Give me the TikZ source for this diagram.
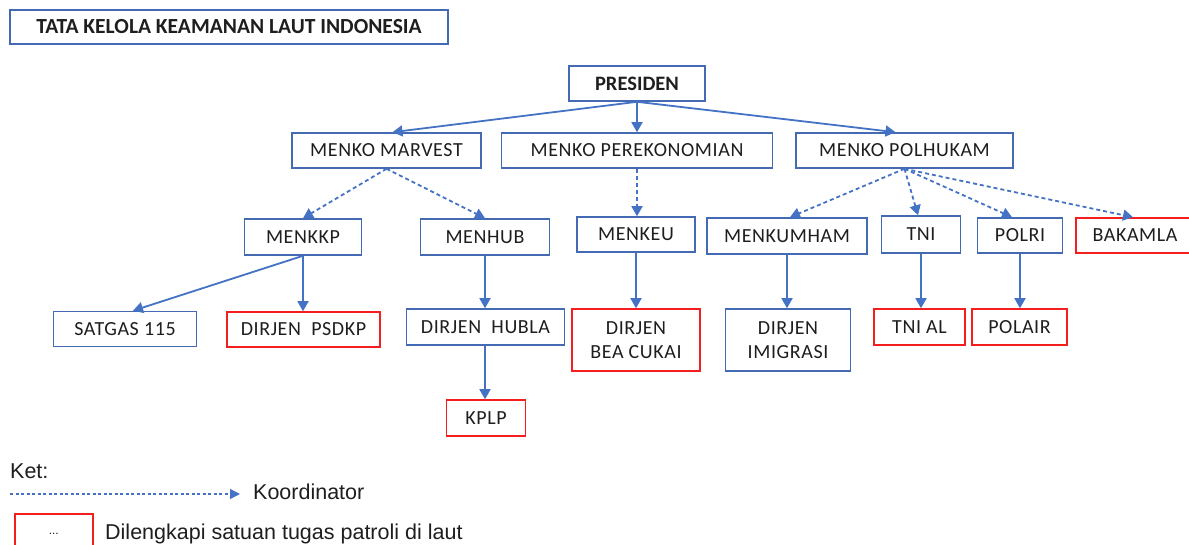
\documentclass[tikz,border=0pt]{standalone}
\usepackage{fontspec}
\setmainfont{Carlito}
\newfontfamily\boxfont{Carlito}[LetterSpace=3.0]
\newfontfamily\ketfont{Liberation Sans}
\usetikzlibrary{positioning, arrows.meta}

\definecolor{boxblue}{RGB}{68,106,180}
\definecolor{linkblue}{RGB}{68,114,196}
\definecolor{patrolred}{RGB}{245,30,30}
\definecolor{txt}{RGB}{30,30,30}

\begin{document}
\begin{tikzpicture}[
    x=1pt, y=-1pt,
    every node/.style={font=\boxfont\fontsize{20}{24}\selectfont, text=txt},
    box/.style={draw=boxblue, line width=1.6pt, minimum height=35pt, inner sep=0pt, align=center},
    redbox/.style={box, draw=patrolred},
    line/.style={-{Triangle[length=10pt,width=11pt]}, draw=linkblue, line width=1.8pt},
    coord/.style={line, dash pattern=on 4pt off 3pt},
    ket/.style={font=\ketfont\fontsize{21.5}{25}\selectfont, inner sep=0pt}
  ]
  \useasboundingbox (0,0) rectangle (1189,544);

  % judul
  \node[box, minimum width=438pt, minimum height=34pt, font=\fontsize{21.5}{25}\selectfont\bfseries] (judul) at (229,27) {TATA KELOLA KEAMANAN LAUT INDONESIA};

  % presiden dan menko
  \node[box, minimum width=136pt, font=\fontsize{20.5}{24}\selectfont\bfseries] (pres) at (637,83.5) {PRESIDEN};
  \node[box, minimum width=189pt] (marv) at (386.5,150.5) {MENKO MARVEST};
  \node[box, minimum width=271pt] (ekon) at (637,150.5) {MENKO PEREKONOMIAN};
  \node[box, minimum width=217pt] (polh) at (904.5,150.5) {MENKO POLHUKAM};

  % kementerian dan lembaga
  \node[box, minimum width=117pt, minimum height=36pt] (kkp) at (303,237) {MENKKP};
  \node[box, minimum width=129pt, minimum height=36pt] (hub) at (485,237) {MENHUB};
  \node[box, minimum width=118pt] (keu) at (636,234.5) {MENKEU};
  \node[box, minimum width=160pt, minimum height=36pt] (kumham) at (787,236) {MENKUMHAM};
  \node[box, minimum width=79pt, minimum height=37pt] (tni) at (921,234.5) {TNI};
  \node[box, minimum width=85pt] (polri) at (1020,235.5) {POLRI};
  \node[redbox, minimum width=118pt] (bakamla) at (1135,235.5) {BAKAMLA};

  % satuan pelaksana
  \node[box, minimum width=143pt] (satgas) at (125,329) {SATGAS 115};
  \node[redbox, minimum width=153pt] (psdkp) at (303.5,329.5) {DIRJEN~ PSDKP};
  \node[box, minimum width=158pt, minimum height=36pt] (hubla) at (485.5,327) {DIRJEN~ HUBLA};
  \node[redbox, minimum width=128pt, minimum height=62pt] (bea) at (636,340) {DIRJEN\\BEA CUKAI};
  \node[box, minimum width=125pt, minimum height=62pt] (imig) at (788,340) {DIRJEN\\IMIGRASI};
  \node[redbox, minimum width=91pt, minimum height=36pt] (tnial) at (919.5,327) {TNI AL};
  \node[redbox, minimum width=95pt, minimum height=36pt] (polair) at (1019.5,327) {POLAIR};
  \node[redbox, minimum width=79pt, minimum height=36pt] (kplp) at (486,418) {KPLP};

  % garis komando
  \draw[line] (pres.south) -- ([xshift=6pt]marv.north);
  \draw[line] (pres.south) -- (pres.south |- ekon.north);
  \draw[line] (pres.south) -- ([xshift=-9pt]polh.north);
  \draw[line] (kkp.south) -- ([xshift=8pt]satgas.north);
  \draw[line] (kkp.south) -- (kkp.south |- psdkp.north);
  \draw[line] (hub.south) -- (hub.south |- hubla.north);
  \draw[line] (hub.south |- hubla.south) -- (hub.south |- kplp.north);
  \draw[line] (keu.south) -- (keu.south |- bea.north);
  \draw[line] (kumham.south) -- (kumham.south |- imig.north);
  \draw[line] (tni.south) -- (tni.south |- tnial.north);
  \draw[line] (polri.south) -- (polri.south |- polair.north);

  % garis koordinasi
  \draw[coord] (marv.south) -- (kkp.north);
  \draw[coord] (marv.south) -- (hub.north);
  \draw[coord] (ekon.south) -- (ekon.south |- keu.north);
  \draw[coord] (polh.south) -- ([xshift=3pt]kumham.north);
  \draw[coord] (polh.south) -- ([xshift=-3pt]tni.north);
  \draw[coord] (polh.south) -- ([xshift=-8pt]polri.north);
  \draw[coord] (polh.south) -- ([xshift=-2pt]bakamla.north);

  % keterangan
  \node[ket, anchor=base west] (ket) at (10,478) {Ket:};
  \coordinate (k1) at (10,494);
  \node[ket, anchor=west] (koord) at (253,492) {Koordinator};
  \draw[-{Triangle[length=10pt,width=10pt]}, draw=linkblue, line width=1.2pt, dash pattern=on 3pt off 2.5pt] (k1) -- ([xshift=-13pt]koord.west |- k1);
  \node[redbox, minimum width=78pt, minimum height=40pt, anchor=north west, font=\ketfont\fontsize{12}{14}\selectfont] (ketbox) at (14,513) {...};
  \node[ket, anchor=west] (leng) at (105,534) {Dilengkapi satuan tugas patroli di laut};
\end{tikzpicture}
\end{document}
